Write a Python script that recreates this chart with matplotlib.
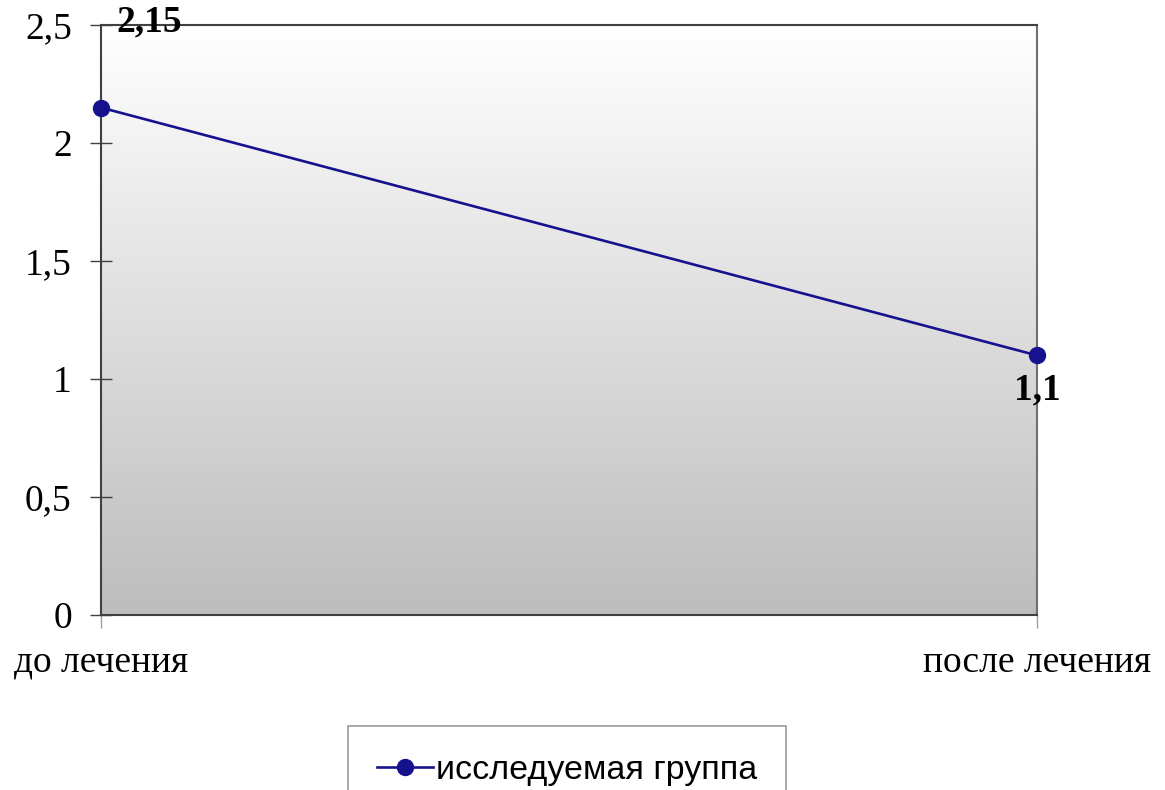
import matplotlib
matplotlib.use("Agg")
import matplotlib.pyplot as plt
import numpy as np
from matplotlib.colors import LinearSegmentedColormap

categories = ["до лечения", "после лечения"]
values = [2.15, 1.1]
value_labels = ["2,15", "1,1"]
series_name = "исследуемая группа"
yticks = [0, 0.5, 1, 1.5, 2, 2.5]
ytick_labels = ["0", "0,5", "1", "1,5", "2", "2,5"]

fig = plt.figure(figsize=(11.65, 7.9), dpi=100)
ax = fig.add_axes([101/1165, 1-615/790, (1037-101)/1165, (615-25)/790])

# gradient background (white at top, grey at bottom)
cmap = LinearSegmentedColormap.from_list("g", ["#ffffff", "#bdbdbd"])
grad = np.linspace(0, 1, 256).reshape(-1, 1)
ax.imshow(grad, cmap=cmap, extent=[0, 1, 0, 2.5], origin="upper", aspect="auto", zorder=0)

x = np.arange(len(categories))
line, = ax.plot(x, values, color="#16128e", lw=1.9, marker="o", markersize=11.5,
                label=series_name, zorder=3, clip_on=False)

ax.set_xlim(0, 1)
ax.set_ylim(0, 2.5)
ax.set_yticks(yticks)
ax.set_yticklabels(ytick_labels, family="Liberation Serif", fontsize=27)
ax.set_xticks(x)
ax.set_xticklabels([])
ax.tick_params(axis="y", direction="inout", length=16, width=1, color="#404040", pad=13)
ax.tick_params(axis="x", direction="out", length=9, width=1, color="#a0a0a0")
for s in ax.spines.values():
    s.set_color("#404040")
    s.set_linewidth(1.5)
ax.spines["right"].set_color("#707070")

# category labels
for xi, c in zip(x, categories):
    ax.annotate(c, xy=(xi, 0), xytext=(0, -41), textcoords="offset points",
                ha="center", va="baseline", family="Liberation Serif", fontsize=27,
                annotation_clip=False)

# data labels
ax.annotate(value_labels[0], xy=(x[0], values[0]), xytext=(35, 62), textcoords="offset points",
            ha="center", va="center", family="Liberation Serif", fontsize=27,
            fontweight="bold", annotation_clip=False, zorder=5)
ax.annotate(value_labels[1], xy=(x[1], values[1]), xytext=(0, -25), textcoords="offset points",
            ha="center", va="center", family="Liberation Serif", fontsize=27,
            fontweight="bold", annotation_clip=False, zorder=5)

leg = fig.legend(handles=[line], loc="upper center", bbox_to_anchor=(567/1165, 1-726/790),
                 prop={"family": "Liberation Sans", "size": 24.5}, frameon=True, fancybox=False,
                 edgecolor="#808080", handlelength=1.65, handletextpad=0.1,
                 borderpad=0.85, borderaxespad=0)
leg.get_frame().set_linewidth(1.2)

fig.savefig("out.png", dpi=100)
